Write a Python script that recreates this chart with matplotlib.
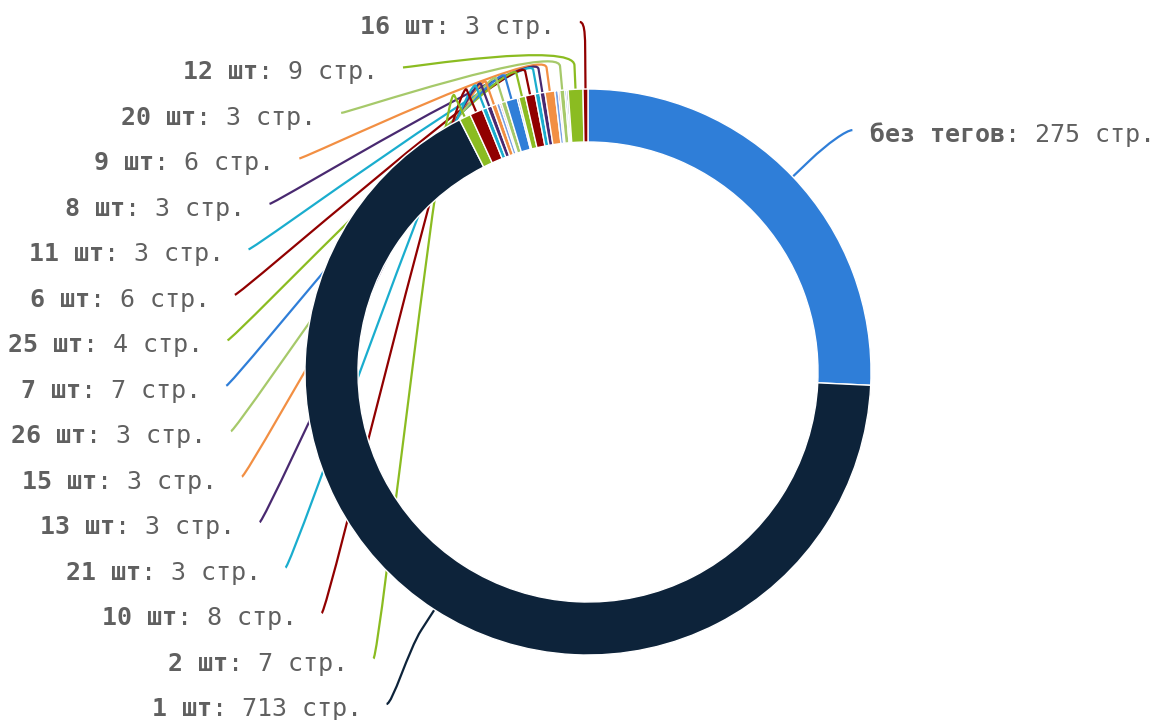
import numpy as np
import matplotlib
matplotlib.use("Agg")
import matplotlib.pyplot as plt
from matplotlib.path import Path
from matplotlib.patches import PathPatch

# slices in drawing order (clockwise from 12 o'clock)
tags = ["без тегов", "1 шт", "2 шт", "10 шт", "21 шт", "13 шт", "15 шт", "3 шт",
        "4 шт", "26 шт", "7 шт", "5 шт", "25 шт", "6 шт", "11 шт", "8 шт", "9 шт",
        "14 шт", "17 шт", "20 шт", "18 шт", "19 шт", "12 шт", "16 шт"]
pages = [275, 713, 7, 8, 3, 3, 3, 2, 1, 3, 7, 1, 4, 6, 3, 3, 6,
         2, 1, 3, 1, 1, 9, 3]
min_labeled = 3

palette = ['#2f7ed8', '#0d233a', '#8bbc21', '#910000', '#1aadce',
           '#492970', '#f28f43', '#77a1e5', '#c42525', '#a6c96a']

W, H = 1163, 720
cx, cy = 588, H - 372
r_out = 283
ring = 53
lab_a, lab_b = 362, 355      # label ellipse half axes
lab_cy = H - 372.6
d2 = 24
txt_color = '#606060'
fsize = 18
font = 'DejaVu Sans Mono'

fig = plt.figure(figsize=(W / 100, H / 100), dpi=100)
ax = fig.add_axes([0, 0, 1, 1])
colors = [palette[i % len(palette)] for i in range(len(pages))]
wedges, _ = ax.pie(pages, colors=colors, startangle=90, counterclock=False,
                   radius=r_out, center=(cx, cy),
                   wedgeprops=dict(width=ring, edgecolor='white', linewidth=1.0, zorder=2))
ax.set_xlim(0, W)
ax.set_ylim(0, H)
ax.set_aspect('equal')
ax.axis('off')

renderer = fig.canvas.get_renderer()


def get_x(y, left):
    q = min(abs(y - lab_cy) / lab_b, 1.0)
    dx = lab_a * np.sqrt(1 - q ** 2)
    return cx - dx if left else cx + dx


def connector(sx, sy, side, mid, color):
    u = np.array([np.cos(np.radians(mid)), np.sin(np.radians(mid))])
    c = np.array([cx, cy])
    p4 = c + r_out * u
    p2 = c + (r_out + d2) * u
    c2 = c + (r_out + 2 * d2) * u
    c1 = (sx + 6 * side, sy)
    verts = [(sx, sy), c1, tuple(c2), tuple(p2), tuple(p4)]
    codes = [Path.MOVETO, Path.CURVE4, Path.CURVE4, Path.CURVE4, Path.LINETO]
    ax.add_patch(PathPatch(Path(verts, codes), facecolor='none', edgecolor=color,
                           lw=1.6, zorder=1))


def label(x, y, bold, rest, left):
    base = y - 12
    if left:
        t = ax.text(x, base, rest, ha='right', va='baseline', fontsize=fsize,
                    family=font, color=txt_color)
        x0 = t.get_window_extent(renderer).x0
        ax.text(x0, base, bold, ha='right', va='baseline', fontsize=fsize,
                family=font, weight='bold', color=txt_color)
    else:
        t = ax.text(x, base, bold, ha='left', va='baseline', fontsize=fsize,
                    family=font, weight='bold', color=txt_color)
        x1 = t.get_window_extent(renderer).x1
        ax.text(x1, base, rest, ha='left', va='baseline', fontsize=fsize,
                family=font, color=txt_color)


mids = [(w.theta1 + w.theta2) / 2 for w in wedges]
shown = [i for i in range(len(pages)) if pages[i] >= min_labeled]
left_idx = [i for i in shown if np.cos(np.radians(mids[i])) < 0][::-1]
right_idx = [i for i in shown if np.cos(np.radians(mids[i])) >= 0]

slots = np.linspace(H - 22, H - 704, len(left_idx))
for k, i in enumerate(left_idx):
    y = slots[k]
    if k == 0 or k == len(left_idx) - 1:
        x = cx + lab_a * np.cos(np.radians(mids[i])) - 5
    else:
        x = get_x(y, True)
    connector(x, y, 1, mids[i], colors[i])
    label(x - 25, y, tags[i], ": %d стр." % pages[i], True)

for i in right_idx:
    y = cy + 362 * np.sin(np.radians(mids[i])) - 8
    x = get_x(y, False)
    connector(x, y, -1, mids[i], colors[i])
    label(x + 18, y, tags[i], ": %d стр." % pages[i], False)

fig.savefig("out.png", dpi=100, facecolor='white')
